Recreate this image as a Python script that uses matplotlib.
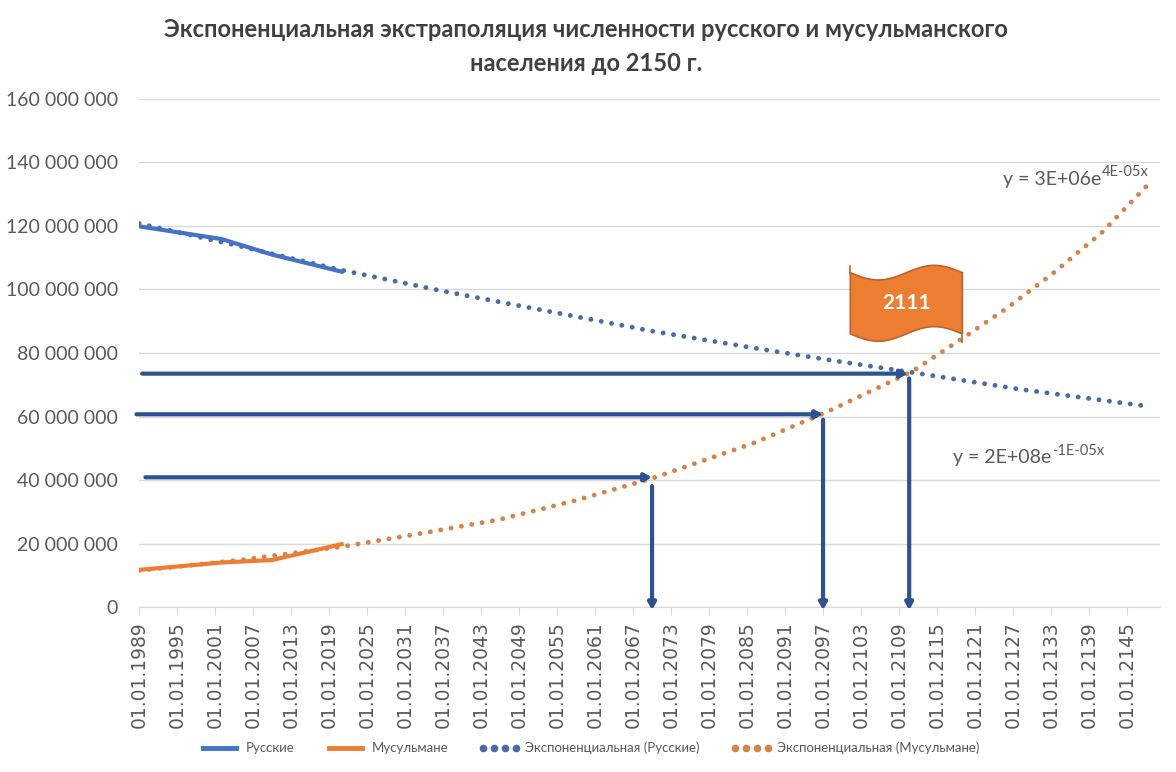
import numpy as np
import matplotlib
matplotlib.use('Agg')
import matplotlib.pyplot as plt
from matplotlib.patches import Polygon
from matplotlib.lines import Line2D
from matplotlib.ticker import FuncFormatter

plt.rcParams['font.family'] = ['Lato', 'DejaVu Sans']

# census data
years = [1989, 2002, 2010, 2021]
russians = [119.9e6, 115.9e6, 111.0e6, 105.6e6]
muslims = [11.7e6, 14.0e6, 14.8e6, 19.8e6]

trend_rus_years = [1989, 2005, 2021, 2037, 2054, 2070, 2086, 2098, 2111, 2128, 2148]
trend_rus = [120.8, 113.6, 106.1, 99.5, 93.0, 86.9, 81.6, 77.8, 73.9, 68.6, 63.3]
trend_mus_years = [1989, 2005, 2021, 2033, 2046, 2058, 2070, 2086, 2098, 2111, 2119, 2126, 2133, 2141, 2148]
trend_mus = [11.5, 14.8, 19.0, 23.0, 27.6, 33.6, 40.5, 51.6, 61.8, 74.1, 84.6, 94.1, 104.6, 117.9, 132.4]

tick_years = list(range(1989, 2150, 6))
tick_labels = ['01.01.%d' % y for y in tick_years]

# hand-drawn arrows: (level, from year, to year) and (year, top level)
h_arrows = [(73.5e6, 1989.5, 2110.4), (60.7e6, 1988.6, 2097.0), (40.85e6, 1990.0, 2070.0)]
v_arrows = [(2070.0, 38.1e6), (2097.0, 59.0e6), (2110.6, 72.0e6)]

blue, orange = '#4472C4', '#ED7D31'
blue_dot, orange_dot = '#4A6BAA', '#D4844A'
arrow_c = '#2E5190'
grey = '#595959'

fig = plt.figure(figsize=(11.76, 7.72), dpi=100)
ax = fig.add_axes([0.1182, 0.2137, 0.8682, 0.6581])

dots = dict(linestyle=(0, (0.01, 2.15)), dash_capstyle='round', linewidth=3.5)
ax.plot(trend_rus_years, np.array(trend_rus) * 1e6, color=blue_dot, zorder=3, **dots)
ax.plot(trend_mus_years, np.array(trend_mus) * 1e6, color=orange_dot, zorder=3, **dots)
ax.plot(years, russians, color=blue, lw=3.0, zorder=4)
ax.plot(years, muslims, color=orange, lw=3.0, zorder=4)

arrowprops = dict(arrowstyle='-|>,head_length=0.4,head_width=0.22', color=arrow_c,
                  lw=3, shrinkA=0, shrinkB=0)
for lvl, x0, x1 in h_arrows:
    ax.annotate('', xy=(x1, lvl), xytext=(x0, lvl), arrowprops=arrowprops,
                annotation_clip=False, zorder=5)
for x, top in v_arrows:
    ax.annotate('', xy=(x, -1.0e6), xytext=(x, top), arrowprops=arrowprops,
                annotation_clip=False, zorder=5)

# flag with the crossing year
t = np.linspace(0, 1, 80)
fx = 2101.3 + t * (2119.0 - 2101.3)
ftop = 105.3e6 - 2.3e6 * np.sin(2 * np.pi * t)
fbot = 86.0e6 - 2.3e6 * np.sin(2 * np.pi * t)
pts = np.column_stack([np.r_[fx, fx[::-1]], np.r_[ftop, fbot[::-1]]])
ax.add_patch(Polygon(pts, closed=True, facecolor=orange, edgecolor='#B8662C', lw=1.2, zorder=6))
ax.plot([2101.3, 2101.3], [105.3e6, 107.4e6], color='#B8662C', lw=1.2, zorder=6)
ax.plot([2119.0, 2119.0], [86.0e6, 83.6e6], color='#B8662C', lw=1.2, zorder=6)
ax.text(2110.2, 95.7e6, '2111', color='white', fontsize=15, fontweight='bold',
        ha='center', va='center', zorder=7)

# trendline equations: base text + superscript
eqs = [(2140.9, 133.0e6, 'y = 3E+06e', '4E-05x'),
       (2133.0, 45.3e6, 'y = 2E+08e', '-1E-05x')]
for x, y, base, sup in eqs:
    ax.text(x, y, base, color=grey, fontsize=14, ha='right', va='baseline')
    ax.annotate(sup, (x, y), xytext=(0.5, 6), textcoords='offset points',
                color=grey, fontsize=10.5, ha='left', va='baseline')

ax.set_xlim(1989, 2150.2)
ax.set_ylim(0, 160e6)
ax.set_yticks(np.arange(0, 160e6 + 1, 20e6))
ax.yaxis.set_major_formatter(FuncFormatter(lambda v, p: '{:,}'.format(int(v)).replace(',', ' ')))
ax.set_xticks(tick_years)
ax.set_xticklabels(tick_labels, rotation=90, fontsize=13.5, color=grey, family='DejaVu Sans')
ax.tick_params(axis='y', length=0, labelsize=14, labelcolor=grey, pad=15)
ax.tick_params(axis='x', length=6, color='#D9D9D9', pad=4)
ax.grid(axis='y', color='#D9D9D9', lw=1)
ax.set_axisbelow(True)
for s in ['top', 'right', 'left']:
    ax.spines[s].set_visible(False)
ax.spines['bottom'].set_color('#D9D9D9')

fig.text(0.498, 0.940, 'Экспоненциальная экстраполяция численности русского и мусульманского\nнаселения до 2150 г.',
         ha='center', va='center', fontsize=17, fontweight='bold', color='#404040', linespacing=1.55)

handles = [Line2D([], [], color=blue, lw=3.5),
           Line2D([], [], color=orange, lw=3.5),
           Line2D([], [], color=blue_dot, linestyle='None', marker='o', markersize=4.5),
           Line2D([], [], color=orange_dot, linestyle='None', marker='o', markersize=4.5)]
labels = ['Русские', 'Мусульмане', 'Экспоненциальная (Русские)', 'Экспоненциальная (Мусульмане)']
fig.legend(handles, labels, loc='center', bbox_to_anchor=(0.501, 0.031), ncol=4, frameon=False,
           fontsize=9.5, labelcolor=grey, handlelength=3.1, columnspacing=2.35, handletextpad=0.4,
           numpoints=4)

fig.savefig('out.png', dpi=100)
